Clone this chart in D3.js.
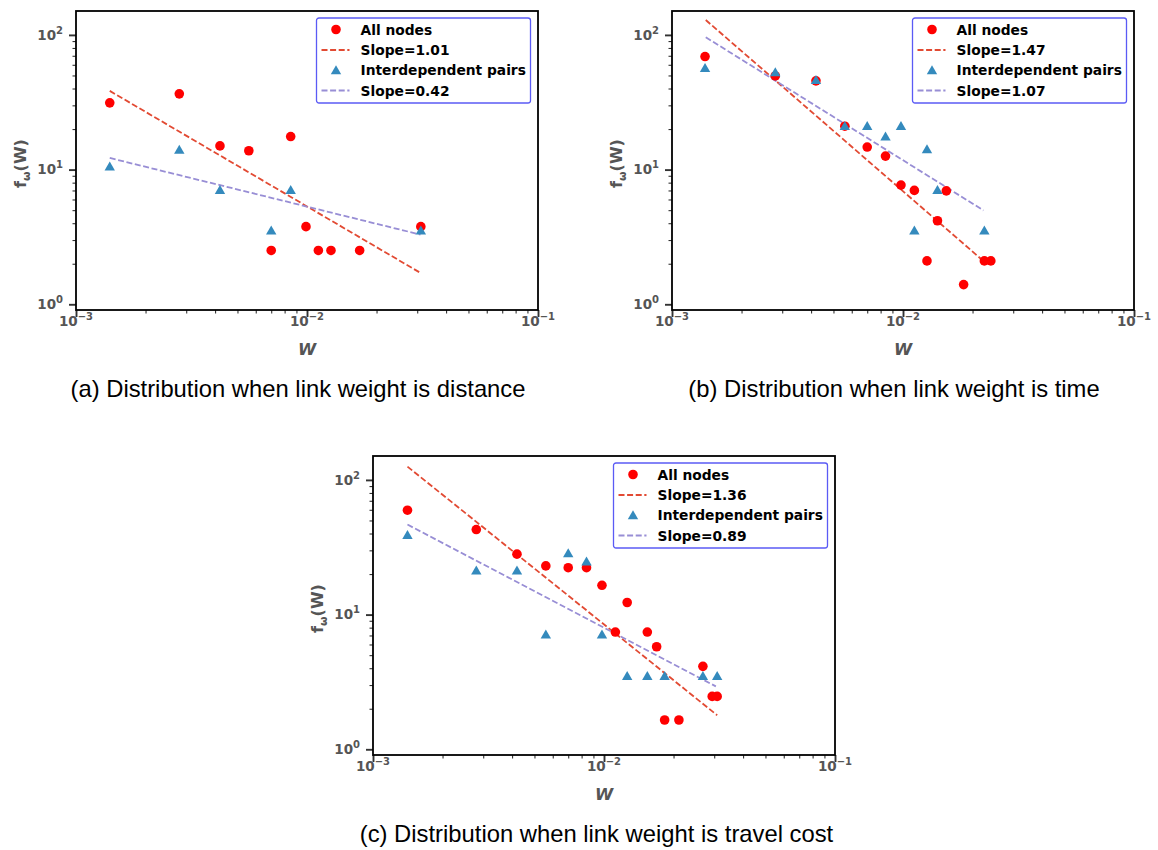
<!DOCTYPE html>
<html>
<head>
<meta charset="utf-8">
<script src="https://cdn.jsdelivr.net/npm/d3@7"></script>
<style>
  html, body { margin: 0; padding: 0; background: #fff; }
  svg { display: block; }
</style>
</head>
<body>
<svg id="chart" width="1158" height="850"></svg>
<script>
// ---------------- DATA ----------------
const xTickExps = [-3, -2, -1];
const yTickExps = [0, 1, 2];
const legendAllLabel = "All nodes";
const legendPairsLabel = "Interdependent pairs";

// (a) link weight = distance
const distNodesW = [0.0014, 0.0028, 0.0042, 0.0056, 0.0085, 0.0099, 0.0070, 0.0112, 0.0127, 0.0169, 0.0311];
const distNodesF = [31.3, 36.5, 15.0, 13.8, 17.6, 3.77, 2.51, 2.51, 2.51, 2.51, 3.77];
const distPairsW = [0.0014, 0.0028, 0.0042, 0.0070, 0.0085, 0.0311];
const distPairsF = [10.6, 14.1, 7.08, 3.54, 7.08, 3.54];
const distFitNodesW = [0.0014, 0.031];
const distFitNodesF = [38.4, 1.71];
const distFitPairsW = [0.0014, 0.031];
const distFitPairsF = [12.2, 3.29];
const distSlopes = ["Slope=1.01", "Slope=0.42"];

// (b) link weight = time
const timeNodesW = [0.00139, 0.0028, 0.0042, 0.0056, 0.0070, 0.0084, 0.0098, 0.0112, 0.0154, 0.0141, 0.0127, 0.0225, 0.0240, 0.0183];
const timeNodesF = [69.1, 49.6, 45.6, 21.0, 14.7, 12.6, 7.67, 7.01, 6.95, 4.17, 2.10, 2.10, 2.10, 1.40];
const timePairsW = [0.00139, 0.0028, 0.0042, 0.0056, 0.0070, 0.0098, 0.0084, 0.0127, 0.0141, 0.0112, 0.0225];
const timePairsF = [56.9, 52.9, 46.4, 21.1, 21.1, 21.1, 17.7, 14.2, 7.08, 3.54, 3.54];
const timeFitNodesW = [0.0014, 0.0230];
const timeFitNodesF = [129, 2.0];
const timeFitPairsW = [0.0014, 0.0223];
const timeFitPairsF = [96.1, 4.98];
const timeSlopes = ["Slope=1.47", "Slope=1.07"];

// (c) link weight = travel cost
const costNodesW = [0.00141, 0.0028, 0.0042, 0.0056, 0.0070, 0.0084, 0.0098, 0.0126, 0.0112, 0.0154, 0.0169, 0.0268, 0.0294, 0.0309, 0.0183, 0.0211];
const costNodesF = [59.6, 42.8, 28.1, 23.0, 22.3, 22.3, 16.5, 12.3, 7.42, 7.42, 5.77, 4.13, 2.47, 2.47, 1.65, 1.65];
const costPairsW = [0.00141, 0.0028, 0.0042, 0.0056, 0.0070, 0.0084, 0.0098, 0.0126, 0.0154, 0.0183, 0.0268, 0.0309];
const costPairsF = [39.1, 21.3, 21.3, 7.13, 28.6, 24.9, 7.13, 3.52, 3.52, 3.52, 3.52, 3.52];
const costFitNodesW = [0.00141, 0.0309];
const costFitNodesF = [125.6, 1.79];
const costFitPairsW = [0.00141, 0.0305];
const costFitPairsF = [46.6, 2.93];
const costSlopes = ["Slope=1.36", "Slope=0.89"];

const captions = [
  "(a) Distribution when link weight is distance",
  "(b) Distribution when link weight is time",
  "(c) Distribution when link weight is travel cost"
];

// ---------------- STYLE / LAYOUT ----------------
const C_NODE = "#ff0000";
const C_NODE_FIT = "#E24A33";
const C_PAIR = "#348ABD";
const C_PAIR_FIT = "#988ED5";
const TICK_COL = "#555555";
const W = 462, H = 299;
const DASH = "6,2.6";
const LINE_W = 1.8;

const svg = d3.select("#chart");

function panel(cfg) {
  const g = svg.append("g").attr("transform", `translate(${cfg.left},${cfg.top})`);
  const x = d3.scaleLog().domain([1e-3, 1e-1]).range([0, W]);
  const y = d3.scaleLog().domain([0.907, 150.5]).range([H, 0]);

  // minor ticks
  const xMinor = [];
  [1e-3, 1e-2].forEach(b => { for (let k = 2; k <= 9; k++) xMinor.push(b * k); });
  const yMinor = [];
  [1, 10].forEach(b => { for (let k = 2; k <= 9; k++) yMinor.push(b * k); });

  const xAxisMinor = d3.axisBottom(x).tickValues(xMinor).tickSize(3.5).tickFormat("");
  const yAxisMinor = d3.axisLeft(y).tickValues(yMinor).tickSize(3.5).tickFormat("");
  const xAxisMajor = d3.axisBottom(x).tickValues(xTickExps.map(e => Math.pow(10, e))).tickSize(7).tickFormat("");
  const yAxisMajor = d3.axisLeft(y).tickValues(yTickExps.map(e => Math.pow(10, e))).tickSize(7).tickFormat("");

  [[xAxisMinor, 1.1], [xAxisMajor, 1.9]].forEach(([ax, sw]) => {
    const a = g.append("g").attr("transform", `translate(0,${H})`).call(ax);
    a.select(".domain").remove();
    a.selectAll("line").attr("stroke", "#333").attr("stroke-width", sw);
  });
  [[yAxisMinor, 1.1], [yAxisMajor, 1.9]].forEach(([ax, sw]) => {
    const a = g.append("g").call(ax);
    a.select(".domain").remove();
    a.selectAll("line").attr("stroke", "#333").attr("stroke-width", sw);
  });

  // tick labels
  xTickExps.forEach(e => {
    const t = g.append("text")
      .attr("x", x(Math.pow(10, e))).attr("y", H + 16)
      .attr("text-anchor", "middle")
      .attr("font-family", "DejaVu Sans").attr("font-weight", "bold")
      .attr("font-size", 13.5).attr("fill", TICK_COL);
    t.append("tspan").text("10");
    t.append("tspan").attr("dy", -6).attr("font-size", 10).text(String(e).replace("-", "\u2212"));
  });
  yTickExps.forEach(e => {
    const t = g.append("text")
      .attr("x", -13).attr("y", y(Math.pow(10, e)) + 4.8)
      .attr("text-anchor", "end")
      .attr("font-family", "DejaVu Sans").attr("font-weight", "bold")
      .attr("font-size", 13.5).attr("fill", TICK_COL);
    t.append("tspan").text("10");
    t.append("tspan").attr("dy", -6).attr("font-size", 10).text(String(e));
  });

  // axis labels
  g.append("text")
    .attr("x", W / 2).attr("y", H + 45)
    .attr("text-anchor", "middle")
    .attr("font-family", "DejaVu Sans").attr("font-weight", "bold").attr("font-style", "italic")
    .attr("font-size", 16.5).attr("fill", TICK_COL)
    .text("W");
  const yl = g.append("text")
    .attr("transform", `translate(${-50},${H / 2 + 3}) rotate(-90)`)
    .attr("text-anchor", "middle")
    .attr("font-family", "DejaVu Sans").attr("font-weight", "bold")
    .attr("font-size", 16).attr("fill", TICK_COL);
  yl.append("tspan").text("f");
  yl.append("tspan").attr("dy", 4).attr("font-size", 11).text("\u03c9");
  yl.append("tspan").attr("dy", -4).text("(W)");

  // fit lines
  const line = d3.line().x(d => x(d[0])).y(d => y(d[1]));
  g.append("path")
    .datum(d3.zip(cfg.fitNodesW, cfg.fitNodesF))
    .attr("d", line).attr("fill", "none")
    .attr("stroke", C_NODE_FIT).attr("stroke-width", LINE_W).attr("stroke-dasharray", DASH);
  g.append("path")
    .datum(d3.zip(cfg.fitPairsW, cfg.fitPairsF))
    .attr("d", line).attr("fill", "none")
    .attr("stroke", C_PAIR_FIT).attr("stroke-width", LINE_W).attr("stroke-dasharray", DASH);

  // points
  g.append("g").selectAll("circle")
    .data(d3.zip(cfg.nodesW, cfg.nodesF))
    .join("circle")
    .attr("cx", d => x(d[0])).attr("cy", d => y(d[1]))
    .attr("r", 4.8).attr("fill", C_NODE);
  const tri = "M0,-4.8L5.2,4.2L-5.2,4.2Z";
  g.append("g").selectAll("path")
    .data(d3.zip(cfg.pairsW, cfg.pairsF))
    .join("path")
    .attr("transform", d => `translate(${x(d[0])},${y(d[1])})`)
    .attr("d", tri).attr("fill", C_PAIR);

  // frame
  g.append("rect").attr("x", 0).attr("y", 0).attr("width", W).attr("height", H)
    .attr("fill", "none").attr("stroke", "#000").attr("stroke-width", 1.8);

  // legend
  const lw = 214, lh = 85;
  const lg = g.append("g").attr("transform", `translate(${W - 7.5 - lw},${7})`);
  lg.append("rect").attr("width", lw).attr("height", lh).attr("rx", 2.5)
    .attr("fill", "rgba(255,255,255,0.85)").attr("stroke", "#5b5bf5").attr("stroke-width", 1.3);
  const rows = [legendAllLabel, cfg.slopes[0], legendPairsLabel, cfg.slopes[1]];
  const rowY = [11.5, 32, 52, 72.5];
  rows.forEach((lab, i) => {
    const yy = rowY[i];
    if (i === 0) lg.append("circle").attr("cx", 19.5).attr("cy", yy).attr("r", 4.8).attr("fill", C_NODE);
    if (i === 2) lg.append("path").attr("transform", `translate(19.5,${yy})`).attr("d", tri).attr("fill", C_PAIR);
    if (i === 1 || i === 3) lg.append("line").attr("x1", 5).attr("x2", 33).attr("y1", yy).attr("y2", yy)
      .attr("stroke", i === 1 ? C_NODE_FIT : C_PAIR_FIT).attr("stroke-width", LINE_W).attr("stroke-dasharray", DASH);
    lg.append("text").attr("x", 44).attr("y", yy + 5)
      .attr("font-family", "DejaVu Sans").attr("font-weight", "bold").attr("font-size", 13.8)
      .attr("fill", "#000").text(lab);
  });
}

panel({ left: 76, top: 11, nodesW: distNodesW, nodesF: distNodesF, pairsW: distPairsW, pairsF: distPairsF,
  fitNodesW: distFitNodesW, fitNodesF: distFitNodesF, fitPairsW: distFitPairsW, fitPairsF: distFitPairsF, slopes: distSlopes });
panel({ left: 672, top: 11, nodesW: timeNodesW, nodesF: timeNodesF, pairsW: timePairsW, pairsF: timePairsF,
  fitNodesW: timeFitNodesW, fitNodesF: timeFitNodesF, fitPairsW: timeFitPairsW, fitPairsF: timeFitPairsF, slopes: timeSlopes });
panel({ left: 373, top: 456, nodesW: costNodesW, nodesF: costNodesF, pairsW: costPairsW, pairsF: costPairsF,
  fitNodesW: costFitNodesW, fitNodesF: costFitNodesF, fitPairsW: costFitPairsW, fitPairsF: costFitPairsF, slopes: costSlopes });

// captions
const capPos = [[298, 397], [894, 397], [596.5, 842]];
captions.forEach((c, i) => {
  svg.append("text").attr("x", capPos[i][0]).attr("y", capPos[i][1])
    .attr("text-anchor", "middle")
    .attr("font-family", "Liberation Sans, Arial, sans-serif").attr("font-size", 23.8)
    .attr("fill", "#000").text(c);
});
</script>
</body>
</html>
